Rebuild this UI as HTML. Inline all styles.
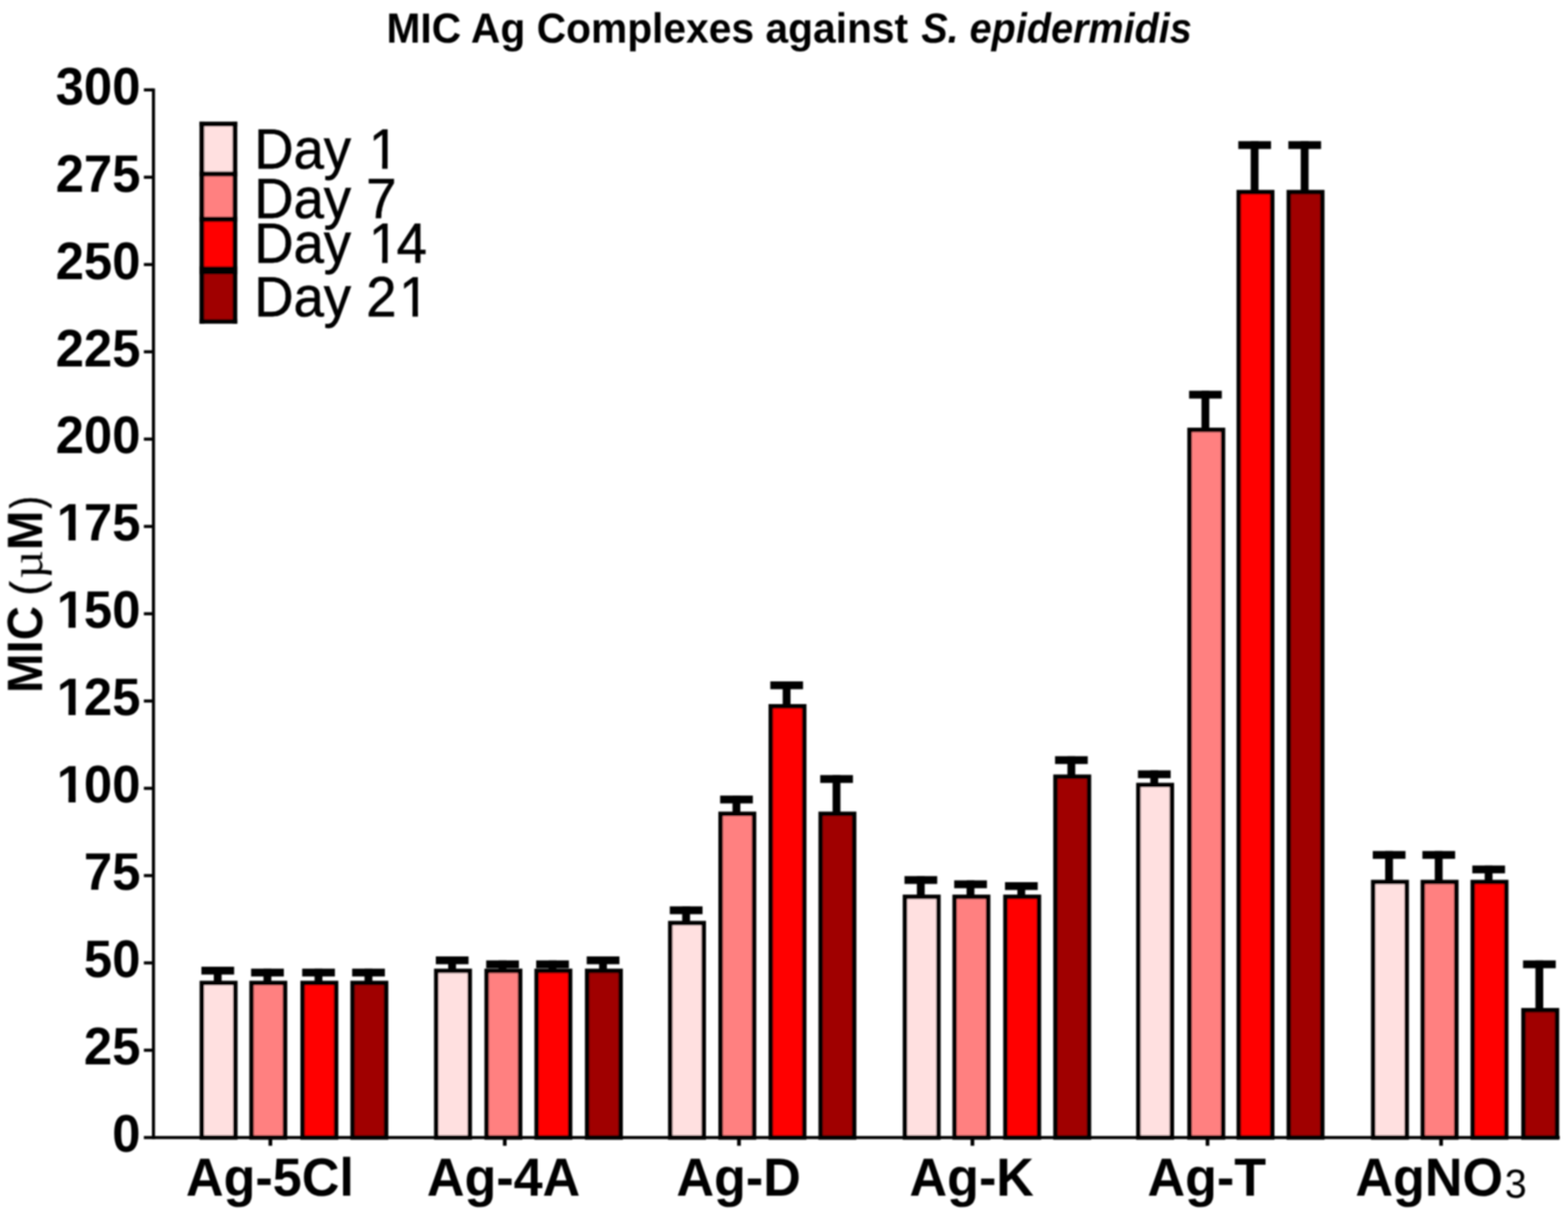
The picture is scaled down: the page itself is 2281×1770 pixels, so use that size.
<!DOCTYPE html>
<html lang="en"><head><meta charset="utf-8">
<title>MIC Ag Complexes against S. epidermidis</title>
<style>
html,body{margin:0;padding:0;background:#fff;}
body{width:2281px;height:1770px;overflow:hidden;}
svg{display:block;}
text{font-family:"Liberation Sans",Arial,Helvetica,sans-serif;fill:#000;text-rendering:geometricPrecision;font-kerning:normal;}
.b{font-weight:bold;}
.bi{font-weight:bold;font-style:italic;}
.r{font-weight:normal;}
.mu{font-family:"Liberation Serif","DejaVu Serif",serif;font-weight:normal;}
</style></head><body>
<svg width="2281" height="1770" viewBox="0 0 2281 1770" role="img" aria-label="MIC Ag Complexes against S. epidermidis">
<defs>
<filter id="soft" x="0" y="0" width="2281" height="1770" filterUnits="userSpaceOnUse"><feGaussianBlur stdDeviation="0.90"/></filter>
<clipPath id="c1b"><path clip-rule="evenodd" d="M-50 -88.8 H888.0 V37.0 H-50 Z M3.97 -8.66 H18.69 V3.70 H3.97 Z M29.05 -8.66 H42.89 V3.70 H29.05 Z"/></clipPath>
<clipPath id="c1r"><path clip-rule="evenodd" d="M-50 -96.0 H960.0 V40.0 H-50 Z M171.70 -6.96 H187.78 V4.00 H171.70 Z M195.78 -6.96 H211.06 V4.00 H195.78 Z"/></clipPath>
<clipPath id="c2r"><path clip-rule="evenodd" d="M-50 -96.0 H960.0 V40.0 H-50 Z M216.19 -6.96 H232.27 V4.00 H216.19 Z M240.27 -6.96 H255.55 V4.00 H240.27 Z"/></clipPath>
</defs>
<rect x="0" y="0" width="2281" height="1770" fill="#fff"/>
<g id="chart" filter="url(#soft)">
<text class="b" transform="translate(562.15 62.30) scale(1.0000 1.0350)" font-size="59.30">MIC Ag Complexes against</text>
<text class="bi" transform="translate(1340.14 62.30) scale(0.9710 1.0350)" font-size="59.30">S. epidermidis</text>
<text class="b" transform="translate(61.3 1007.9) rotate(-90) scale(1 1.05)" font-size="69.00">MIC <tspan class="r" x="141.85" font-size="62.5" stroke="#000" stroke-width="0.9">(</tspan><tspan class="mu" x="166.35" font-size="63.0" textLength="41.21" lengthAdjust="spacingAndGlyphs">µ</tspan><tspan x="207.71">M</tspan><tspan class="r" x="268.67" font-size="62.5" stroke="#000" stroke-width="0.9" textLength="17.48" lengthAdjust="spacingAndGlyphs">)</tspan></text>
<g id="err" fill="#000">
<rect x="293.0" y="1406.0" width="47.6" height="11.4"/>
<rect x="311.0" y="1406.0" width="11.4" height="23.4"/>
<rect x="365.3" y="1408.8" width="47.6" height="11.4"/>
<rect x="383.3" y="1408.8" width="11.4" height="20.6"/>
<rect x="439.6" y="1408.8" width="47.6" height="11.4"/>
<rect x="457.6" y="1408.8" width="11.4" height="20.6"/>
<rect x="512.3" y="1408.8" width="47.6" height="11.4"/>
<rect x="530.3" y="1408.8" width="11.4" height="20.6"/>
<rect x="634.0" y="1391.0" width="47.6" height="11.4"/>
<rect x="652.0" y="1391.0" width="11.4" height="20.8"/>
<rect x="707.3" y="1396.8" width="47.6" height="11.4"/>
<rect x="725.3" y="1396.8" width="11.4" height="15.0"/>
<rect x="780.0" y="1396.8" width="47.6" height="11.4"/>
<rect x="798.0" y="1396.8" width="11.4" height="15.0"/>
<rect x="853.5" y="1391.0" width="47.6" height="11.4"/>
<rect x="871.5" y="1391.0" width="11.4" height="20.8"/>
<rect x="974.4" y="1318.2" width="47.6" height="11.4"/>
<rect x="992.4" y="1318.2" width="11.4" height="24.1"/>
<rect x="1047.6" y="1157.1" width="47.6" height="11.4"/>
<rect x="1065.6" y="1157.1" width="11.4" height="26.3"/>
<rect x="1120.6" y="991.0" width="47.6" height="11.4"/>
<rect x="1138.6" y="991.0" width="11.4" height="36.0"/>
<rect x="1193.2" y="1127.3" width="47.6" height="11.4"/>
<rect x="1211.2" y="1127.3" width="11.4" height="56.1"/>
<rect x="1315.8" y="1274.2" width="47.6" height="11.4"/>
<rect x="1333.8" y="1274.2" width="11.4" height="29.9"/>
<rect x="1388.1" y="1280.4" width="47.6" height="11.4"/>
<rect x="1406.1" y="1280.4" width="11.4" height="23.7"/>
<rect x="1462.0" y="1283.0" width="47.6" height="11.4"/>
<rect x="1480.0" y="1283.0" width="11.4" height="21.1"/>
<rect x="1534.8" y="1099.8" width="47.6" height="11.4"/>
<rect x="1552.8" y="1099.8" width="11.4" height="29.6"/>
<rect x="1655.4" y="1120.4" width="47.6" height="11.4"/>
<rect x="1673.4" y="1120.4" width="11.4" height="21.1"/>
<rect x="1729.8" y="568.3" width="47.6" height="11.4"/>
<rect x="1747.8" y="568.3" width="11.4" height="56.7"/>
<rect x="1801.4" y="205.3" width="47.6" height="11.4"/>
<rect x="1819.4" y="205.3" width="11.4" height="73.9"/>
<rect x="1874.2" y="205.3" width="47.6" height="11.4"/>
<rect x="1892.2" y="205.3" width="11.4" height="73.9"/>
<rect x="1997.0" y="1237.7" width="47.6" height="11.4"/>
<rect x="2015.0" y="1237.7" width="11.4" height="44.9"/>
<rect x="2069.2" y="1237.7" width="47.6" height="11.4"/>
<rect x="2087.2" y="1237.7" width="11.4" height="44.9"/>
<rect x="2141.8" y="1258.8" width="47.6" height="11.4"/>
<rect x="2159.8" y="1258.8" width="11.4" height="23.8"/>
<rect x="2215.6" y="1396.8" width="47.6" height="11.4"/>
<rect x="2233.6" y="1396.8" width="11.4" height="72.2"/>
</g>
<g id="bars" stroke="#000" stroke-width="6.5">
<rect x="293.65" y="1429.65" width="48.70" height="224.75" fill="#FFE0E0"/>
<rect x="365.95" y="1429.65" width="48.70" height="224.75" fill="#FF8080"/>
<rect x="440.25" y="1429.65" width="48.70" height="224.75" fill="#FF0000"/>
<rect x="512.95" y="1429.65" width="48.70" height="224.75" fill="#A00000"/>
<rect x="634.65" y="1412.05" width="48.70" height="242.35" fill="#FFE0E0"/>
<rect x="707.95" y="1412.05" width="48.70" height="242.35" fill="#FF8080"/>
<rect x="780.65" y="1412.05" width="48.70" height="242.35" fill="#FF0000"/>
<rect x="854.15" y="1412.05" width="48.70" height="242.35" fill="#A00000"/>
<rect x="975.05" y="1342.55" width="48.70" height="311.85" fill="#FFE0E0"/>
<rect x="1048.25" y="1183.65" width="48.70" height="470.75" fill="#FF8080"/>
<rect x="1121.25" y="1027.25" width="48.70" height="627.15" fill="#FF0000"/>
<rect x="1193.85" y="1183.65" width="48.70" height="470.75" fill="#A00000"/>
<rect x="1316.45" y="1304.35" width="48.70" height="350.05" fill="#FFE0E0"/>
<rect x="1388.75" y="1304.35" width="48.70" height="350.05" fill="#FF8080"/>
<rect x="1462.65" y="1304.35" width="48.70" height="350.05" fill="#FF0000"/>
<rect x="1535.45" y="1129.65" width="48.70" height="524.75" fill="#A00000"/>
<rect x="1656.05" y="1141.75" width="48.70" height="512.65" fill="#FFE0E0"/>
<rect x="1730.45" y="625.25" width="48.70" height="1029.15" fill="#FF8080"/>
<rect x="1802.05" y="279.45" width="48.70" height="1374.95" fill="#FF0000"/>
<rect x="1874.85" y="279.45" width="48.70" height="1374.95" fill="#A00000"/>
<rect x="1997.65" y="1282.85" width="48.70" height="371.55" fill="#FFE0E0"/>
<rect x="2069.85" y="1282.85" width="48.70" height="371.55" fill="#FF8080"/>
<rect x="2142.45" y="1282.85" width="48.70" height="371.55" fill="#FF0000"/>
<rect x="2216.25" y="1469.25" width="48.70" height="185.15" fill="#A00000"/>
</g>
<g id="axes" fill="#000">
<rect x="221.0" y="128.6" width="4.5" height="1528.1"/>
<rect x="209.3" y="1652.2" width="2059.7" height="4.5"/>
<rect x="209.3" y="1525.2" width="13.0" height="4.5"/>
<rect x="209.3" y="1398.2" width="13.0" height="4.5"/>
<rect x="209.3" y="1271.2" width="13.0" height="4.5"/>
<rect x="209.3" y="1144.3" width="13.0" height="4.5"/>
<rect x="209.3" y="1017.3" width="13.0" height="4.5"/>
<rect x="209.3" y="890.4" width="13.0" height="4.5"/>
<rect x="209.3" y="763.4" width="13.0" height="4.5"/>
<rect x="209.3" y="636.4" width="13.0" height="4.5"/>
<rect x="209.3" y="509.4" width="13.0" height="4.5"/>
<rect x="209.3" y="382.5" width="13.0" height="4.5"/>
<rect x="209.3" y="255.5" width="13.0" height="4.5"/>
<rect x="209.3" y="128.5" width="13.0" height="4.5"/>
<rect x="390.6" y="1654.4" width="5.4" height="12.0"/>
<rect x="731.6" y="1654.4" width="5.4" height="12.0"/>
<rect x="1072.3" y="1654.4" width="5.4" height="12.0"/>
<rect x="1411.9" y="1654.4" width="5.4" height="12.0"/>
<rect x="1753.9" y="1654.4" width="5.4" height="12.0"/>
<rect x="2093.7" y="1654.4" width="5.4" height="12.0"/>
</g>
<text class="b" transform="translate(163.24 1675.20) scale(1.0000 1.0380)" font-size="74.00">0</text>
<text class="b" transform="translate(122.09 1548.23) scale(1.0000 1.0380)" font-size="74.00">25</text>
<text class="b" transform="translate(122.09 1421.27) scale(1.0000 1.0380)" font-size="74.00">50</text>
<text class="b" transform="translate(122.09 1294.30) scale(1.0000 1.0380)" font-size="74.00">75</text>
<text class="b" transform="translate(80.93 1167.33) scale(1.0000 1.0380)" font-size="74.00" clip-path="url(#c1b)"><tspan dx="1.6">1</tspan><tspan dx="-1.6">00</tspan></text>
<text class="b" transform="translate(80.93 1040.37) scale(1.0000 1.0380)" font-size="74.00" clip-path="url(#c1b)"><tspan dx="1.6">1</tspan><tspan dx="-1.6">25</tspan></text>
<text class="b" transform="translate(80.93 913.40) scale(1.0000 1.0380)" font-size="74.00" clip-path="url(#c1b)"><tspan dx="1.6">1</tspan><tspan dx="-1.6">50</tspan></text>
<text class="b" transform="translate(80.93 786.43) scale(1.0000 1.0380)" font-size="74.00" clip-path="url(#c1b)"><tspan dx="1.6">1</tspan><tspan dx="-1.6">75</tspan></text>
<text class="b" transform="translate(80.93 659.47) scale(1.0000 1.0380)" font-size="74.00">200</text>
<text class="b" transform="translate(80.93 532.50) scale(1.0000 1.0380)" font-size="74.00">225</text>
<text class="b" transform="translate(80.93 405.53) scale(1.0000 1.0380)" font-size="74.00">250</text>
<text class="b" transform="translate(80.93 278.57) scale(1.0000 1.0380)" font-size="74.00">275</text>
<text class="b" transform="translate(80.93 151.60) scale(1.0000 1.0380)" font-size="74.00">300</text>
<text class="b" transform="translate(270.48 1738.90) scale(1.0000 1.0300)" font-size="75.80">Ag-5Cl</text>
<text class="b" transform="translate(620.91 1738.90) scale(1.0000 1.0300)" font-size="75.80">Ag-4A</text>
<text class="b" transform="translate(983.99 1738.90) scale(1.0000 1.0300)" font-size="75.80">Ag-D</text>
<text class="b" transform="translate(1323.09 1738.90) scale(1.0000 1.0300)" font-size="75.80">Ag-K</text>
<text class="b" transform="translate(1669.31 1738.90) scale(1.0000 1.0300)" font-size="75.80">Ag-T</text>
<text class="b" transform="translate(1971.70 1738.90) scale(1.0000 1.0300)" font-size="75.80">AgNO<tspan class="r" font-size="57.5" dx="2.5" dy="2.6">3</tspan></text>
<g id="legend">
<rect x="293" y="180.0" width="49" height="73.0" fill="#FFE0E0"/>
<rect x="293" y="253.0" width="49" height="66.0" fill="#FF8080"/>
<rect x="293" y="319.0" width="49" height="74.0" fill="#FF0000"/>
<rect x="293" y="393.0" width="49" height="74.0" fill="#A00000"/>
<rect x="290.2" y="176.9" width="55.0" height="7.0" fill="#000"/>
<rect x="290.2" y="249.4" width="55.0" height="7.2" fill="#000"/>
<rect x="290.2" y="315.3" width="55.0" height="7.3" fill="#000"/>
<rect x="290.2" y="387.6" width="55.0" height="11.3" fill="#000"/>
<rect x="290.2" y="464.3" width="55.0" height="6.5" fill="#000"/>
<rect x="290.2" y="176.9" width="7.0" height="293.9" fill="#000"/>
<rect x="338.4" y="176.9" width="6.8" height="293.9" fill="#000"/>
</g>
<text class="r" transform="translate(369.65 244.70) scale(0.9920 1.0300)" font-size="80.00" stroke="#000" stroke-width="0.8" stroke-linejoin="round" clip-path="url(#c1r)">Day <tspan dx="3.6">1</tspan></text>
<text class="r" transform="translate(369.65 316.60) scale(0.9920 1.0300)" font-size="80.00" stroke="#000" stroke-width="0.8" stroke-linejoin="round">Day 7</text>
<text class="r" transform="translate(369.65 382.20) scale(0.9920 1.0300)" font-size="80.00" stroke="#000" stroke-width="0.8" stroke-linejoin="round" clip-path="url(#c1r)">Day <tspan dx="3.6">1</tspan><tspan dx="-3.6">4</tspan></text>
<text class="r" transform="translate(369.65 459.50) scale(0.9920 1.0300)" font-size="80.00" stroke="#000" stroke-width="0.8" stroke-linejoin="round" clip-path="url(#c2r)">Day 2<tspan dx="3.6">1</tspan></text>
</g>
</svg>
</body></html>
